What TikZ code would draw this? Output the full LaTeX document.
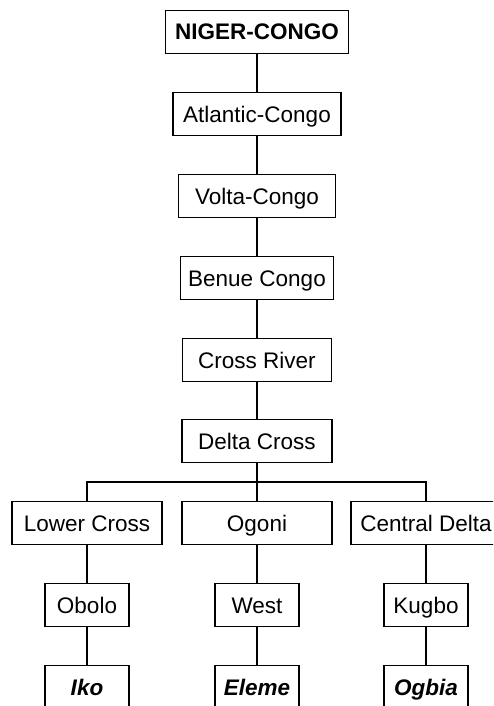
\documentclass[tikz,border=0pt]{standalone}
\usepackage{fontspec}
\setmainfont{Liberation Sans}
\begin{document}
\begin{tikzpicture}[x=1pt,y=-1pt,
  box/.style={draw,line width=1.5pt,minimum height=43pt,inner sep=0pt,text height=16pt,text depth=0pt,font=\fontsize{22.5}{26}\selectfont,fill=white},
  leaf/.style={box,minimum width=84pt,font=\fontsize{22.5}{26}\selectfont\bfseries\itshape},
  link/.style={line width=1.5pt}]
\clip (0,0) rectangle (493,706);
\fill[white] (0,0) rectangle (493,706);
\node[box,minimum width=183pt,font=\fontsize{22.5}{26}\selectfont\bfseries] (nc) at (257,32) {NIGER-CONGO};
\node[box,minimum width=168pt] (ac) at (257,114) {Atlantic-Congo};
\node[box,minimum width=157pt] (vc) at (257,196) {Volta-Congo};
\node[box,minimum width=153pt] (bc) at (257,278) {Benue Congo};
\node[box,minimum width=149pt] (cr) at (257,360) {Cross River};
\node[box,minimum width=150pt] (dc) at (257,441) {Delta Cross};
\coordinate (bar) at (257,482);
\node[box,minimum width=150pt] (lc) at (87,523) {Lower Cross};
\node[box,minimum width=150pt] (og) at (257,523) {Ogoni};
\node[box,minimum width=150pt] (cd) at (426,523) {Central Delta};
\node[box,minimum width=84pt] (ob) at (87,605) {Obolo};
\node[box,minimum width=84pt] (we) at (257,605) {West};
\node[box,minimum width=84pt] (ku) at (426,605) {Kugbo};
\node[leaf] (ik) at (87,687) {Iko};
\node[leaf] (el) at (257,687) {Eleme};
\node[leaf] (ogb) at (426,687) {Ogbia};
\draw[link] (nc) -- (ac);
\draw[link] (ac) -- (vc);
\draw[link] (vc) -- (bc);
\draw[link] (bc) -- (cr);
\draw[link] (cr) -- (dc);
\draw[link] (dc) -- (og);
\draw[link] (lc.north) |- (bar) -| (cd.north);
\draw[link] (lc) -- (ob);
\draw[link] (og) -- (we);
\draw[link] (cd) -- (ku);
\draw[link] (ob) -- (ik);
\draw[link] (we) -- (el);
\draw[link] (ku) -- (ogb);
\end{tikzpicture}
\end{document}
